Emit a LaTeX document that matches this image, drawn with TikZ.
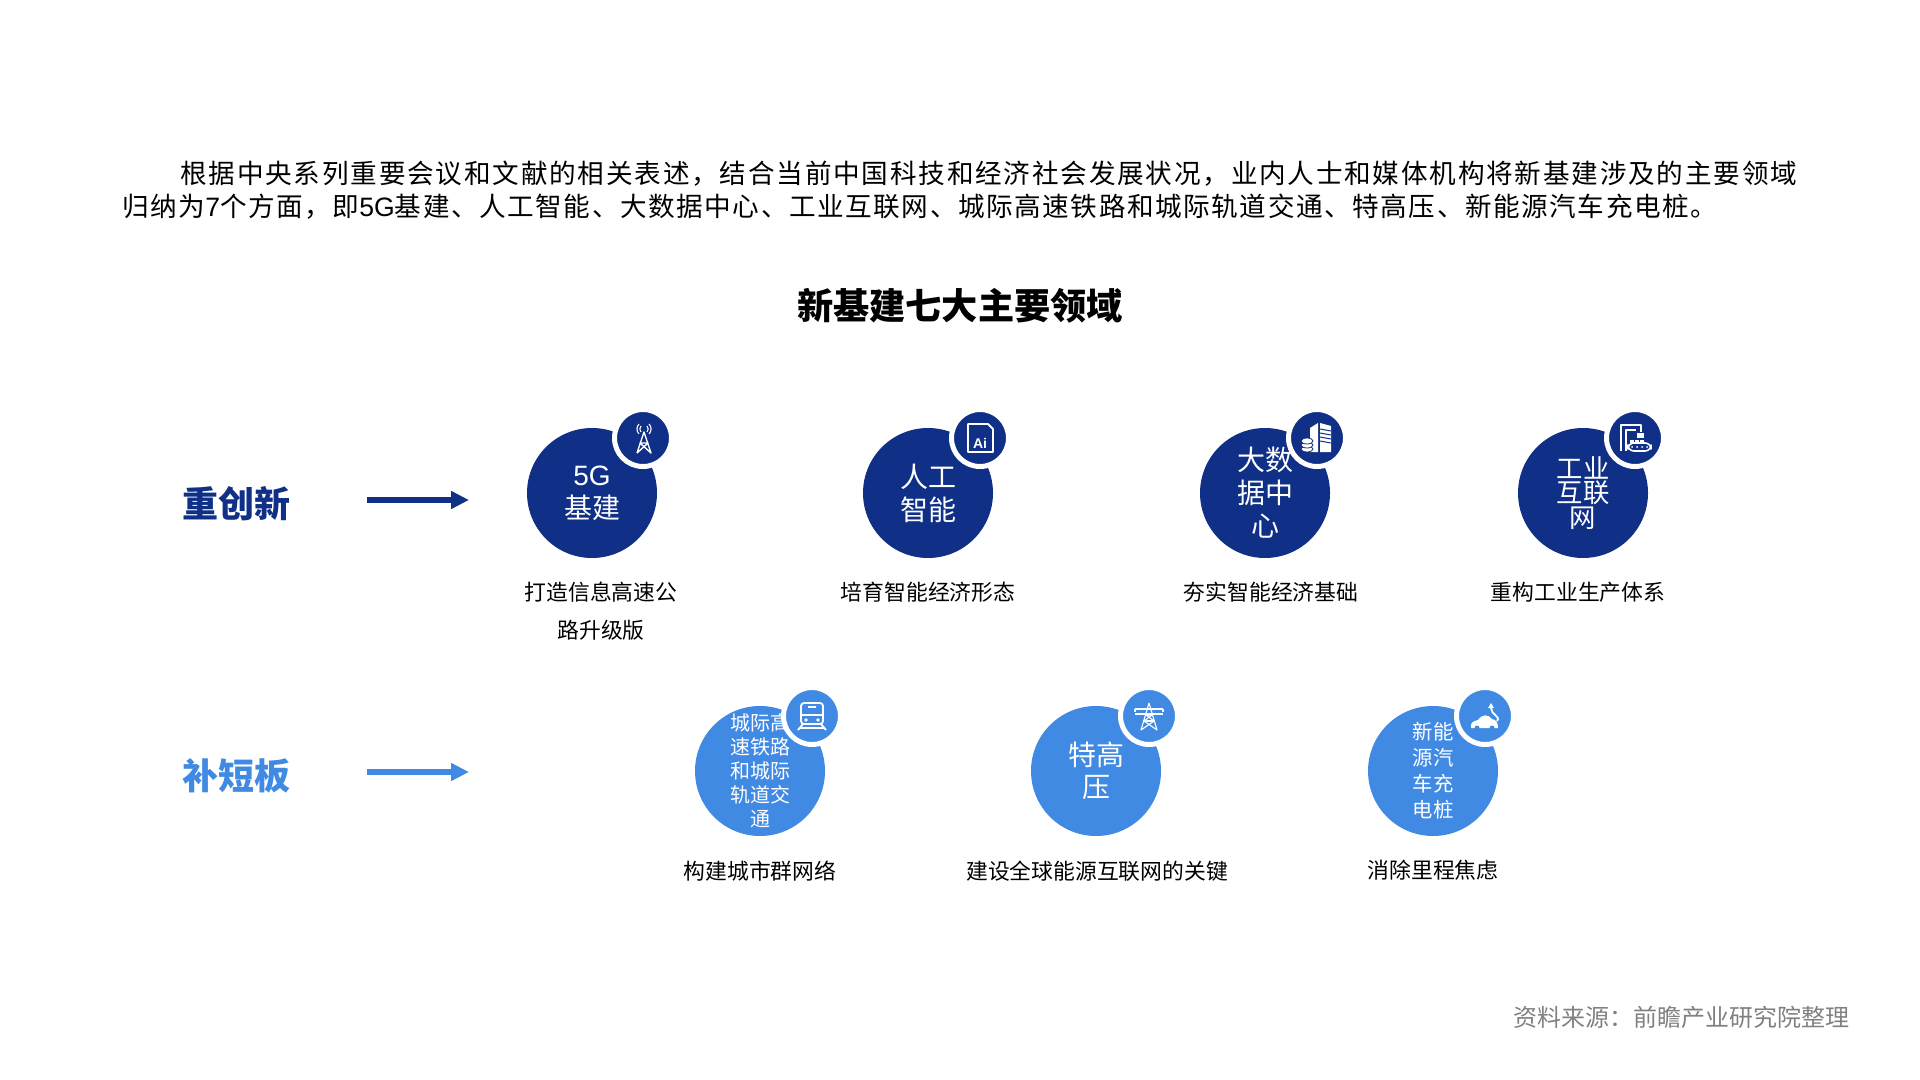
\documentclass[tikz,border=0pt]{standalone}
\usepackage{fontspec}
\setmainfont{Noto Sans CJK SC}
\newfontfamily\latinfont{Liberation Sans}
\newfontfamily\spacedfont[LetterSpace=6.75]{Noto Sans CJK SC}
\newfontfamily\spacedfontb[LetterSpace=5.9]{Noto Sans CJK SC}
\usepackage{tikz}
\usetikzlibrary{arrows.meta,positioning,calc}
\definecolor{navy}{HTML}{0F3086}
\definecolor{sky}{HTML}{408AE4}

\begin{document}
\begin{tikzpicture}[
  x=0.5pt,y=-0.5pt,
  node distance=8.5pt,
  big/.style={circle,fill=#1,minimum size=65pt,inner sep=0pt,align=center,text=white},
  badge/.style={circle,fill=#1,draw=white,line width=2.5pt,minimum size=28.5pt,inner sep=0pt},
  capt/.style={align=center,font=\fontsize{10.9}{19}\selectfont,text=black},
  side/.style={font=\fontsize{18}{20}\selectfont\bfseries,text=#1},
  arrow/.style={-{Triangle[length=9pt,width=8.5pt]},line width=3.2pt,draw=#1},
  icon/.style={white,line width=0.55pt,line join=round}
]
\useasboundingbox (0,0) rectangle (1920,1080);
\node[anchor=west,inner sep=0pt,font=\fontsize{13.3}{16}\spacedfont] (para1) at (180,174) {根据中央系列重要会议和文献的相关表述，结合当前中国科技和经济社会发展状况，业内人士和媒体机构将新基建涉及的主要领域};
\node[anchor=west,inner sep=0pt,font=\fontsize{13.3}{16}\spacedfontb] (para2) at (122,207) {归纳为{\latinfont 7}个方面，即{\latinfont 5G}基建、人工智能、大数据中心、工业互联网、城际高速铁路和城际轨道交通、特高压、新能源汽车充电桩。};
\node[font=\fontsize{18.1}{20}\selectfont\bfseries] (title) at (960,306) {新基建七大主要领域};
% first row
\node[side=navy] (rowa) at (236,504) {重创新};
\coordinate (a1) at (367,500);
\coordinate (a2) at (469,500);
\draw[arrow=navy] (a1)--(a2);
\node[big=navy,font=\fontsize{14}{16.5}\selectfont] (g5) at (592,493) {{\latinfont 5G}\\基建};
\node[big=navy,font=\fontsize{14}{16.5}\selectfont] (ai) at (928,493) {人工\\智能};
\node[big=navy,font=\fontsize{14}{16.5}\selectfont] (data) at (1265,493) {大数\\据中\\心};
\node[big=navy,font=\fontsize{13.2}{12.4}\selectfont] (net) at (1583,493) {工业\\互联\\网};
\node[badge=navy] (g5b) at (643,438) {};
\node[badge=navy] (aib) at (980,438) {};
\node[badge=navy] (datab) at (1317,438) {};
\node[badge=navy] (netb) at (1635,438) {};
\node[capt,below=of g5,xshift=4.5pt] (g5c) {打造信息高速公\\路升级版};
\node[capt,below=of ai] (aic) {培育智能经济形态};
\node[capt,below=of data,xshift=3pt] (datac) {夯实智能经济基础};
\node[capt,below=of net,xshift=-2.5pt] (netc) {重构工业生产体系};
% second row
\node[side=sky] (rowb) at (236,776) {补短板};
\coordinate (b1) at (367,772);
\coordinate (b2) at (469,772);
\draw[arrow=sky] (b1)--(b2);
\node[big=sky,font=\fontsize{10}{12}\selectfont] (rail) at (760,771) {城际高\\速铁路\\和城际\\轨道交\\通};
\node[big=sky,font=\fontsize{14}{16}\selectfont] (uhv) at (1096,771) {特高\\压};
\node[big=sky,font=\fontsize{10.2}{13}\selectfont] (ev) at (1433,771) {新能\\源汽\\车充\\电桩};
\node[badge=sky] (railb) at (812,716) {};
\node[badge=sky] (uhvb) at (1149,716) {};
\node[badge=sky] (evb) at (1485,716) {};
\node[capt,below=of rail] (railc) {构建城市群网络};
\node[capt,below=of uhv,xshift=0.5pt] (uhvc) {建设全球能源互联网的关键};
\node[capt,below=of ev] (evc) {消除里程焦虑};
\node[anchor=east,inner sep=0pt,font=\fontsize{12}{14}\selectfont,text=black!50] (src) at (1850,1017) {资料来源：前瞻产业研究院整理};
% icons
\begin{scope}[shift={(g5b.center)}]
  \draw[icon,line width=0.7pt] (-6,15)--(1,-6)--(8,15)--(-3,5)--(5,5)--(-6,15);
  \draw[icon] (4,-12) arc (-45:45:4.2) (6,-14) arc (-45:45:7) (-2,-12) arc (225:135:4.2) (-4,-14) arc (225:135:7);
\end{scope}
\begin{scope}[shift={(aib.center)}]
  \draw[icon,line width=0.9pt] (-12,14)--(-12,-14)--(8,-14)--(13,-9)--(13,14)--cycle;
  \node[white,inner sep=0pt,font=\fontsize{7}{7}\latinfont\bfseries] (ailab) at (0,5) {Ai};
\end{scope}
\begin{scope}[shift={(datab.center)}]
  \fill[white] (-7,-10)--(1,-15)--(1,14)--(-7,14)--cycle;
  \fill[white] (3,-15)--(14,-12)--(14,14)--(3,14)--cycle;
  \foreach \yy in {-9,-5,-1,3} \draw[navy,line width=0.5pt] (3,\yy)--(14,\yy+2);
  \fill[white,draw=navy,line width=0.4pt] (-10,11) ellipse (6 and 3);
  \fill[white,draw=navy,line width=0.4pt] (-10,7) ellipse (6 and 3);
  \fill[white,draw=navy,line width=0.4pt] (-10,3) ellipse (6 and 3);
\end{scope}
\begin{scope}[shift={(netb.center)}]
  \draw[icon,line width=0.8pt] (-14,13)--(-14,-13)--(6,-13)--(6,-6);
  \draw[icon,line width=0.8pt] (-9,13)--(-9,-8)--(1,-8);
  \fill[white] (2,-5) rectangle (9,0);
  \foreach \xx in {-5,0,5} \fill[white] (\xx,2) rectangle (\xx+4,5);
  \draw[icon,line width=0.8pt,rounded corners=3pt] (-7,5) rectangle (16,13);
  \foreach \xx in {-3,2,7,12} \fill[white] (\xx,9) circle (1);
\end{scope}
\begin{scope}[shift={(railb.center)}]
  \draw[icon,line width=0.9pt,rounded corners=1.5pt] (-11,-13) rectangle (11,8);
  \draw[icon,line width=0.9pt] (-11,-1)--(11,-1) (-4,-9)--(4,-9) (-9,8)--(-14,14) (9,8)--(14,14) (-12,12)--(12,12);
  \fill[white] (-6,4) circle (1.8) (6,4) circle (1.8);
\end{scope}
\begin{scope}[shift={(uhvb.center)}]
  \draw[icon] (0,-13)--(-8,14)--(5,5)--(-3,-1)--(3,-1)--(-5,5)--(8,14)--(0,-13);
  \draw[icon] (-14,-7)--(14,-7) (-14,-2)--(14,-2) (-14,-7)--(-14,-4) (14,-7)--(14,-4) (-6,5)--(6,5);
\end{scope}
\begin{scope}[shift={(evb.center)}]
  \fill[white] (-14,12) .. controls (-15,6) and (-11,5) .. (-7,4) .. controls (-3,-2) and (3,-2) .. (7,3) .. controls (11,4) and (13,6) .. (13,12) -- cycle;
  \fill[sky] (-8,12) circle (2.5) (7,12) circle (2.5);
  \draw[icon,line width=0.9pt] (12,5) .. controls (16,0) and (6,-1) .. (6,-8);
  \fill[white] (3,-8)--(6,-13)--(9,-8)--cycle;
\end{scope}
\end{tikzpicture}
\end{document}
